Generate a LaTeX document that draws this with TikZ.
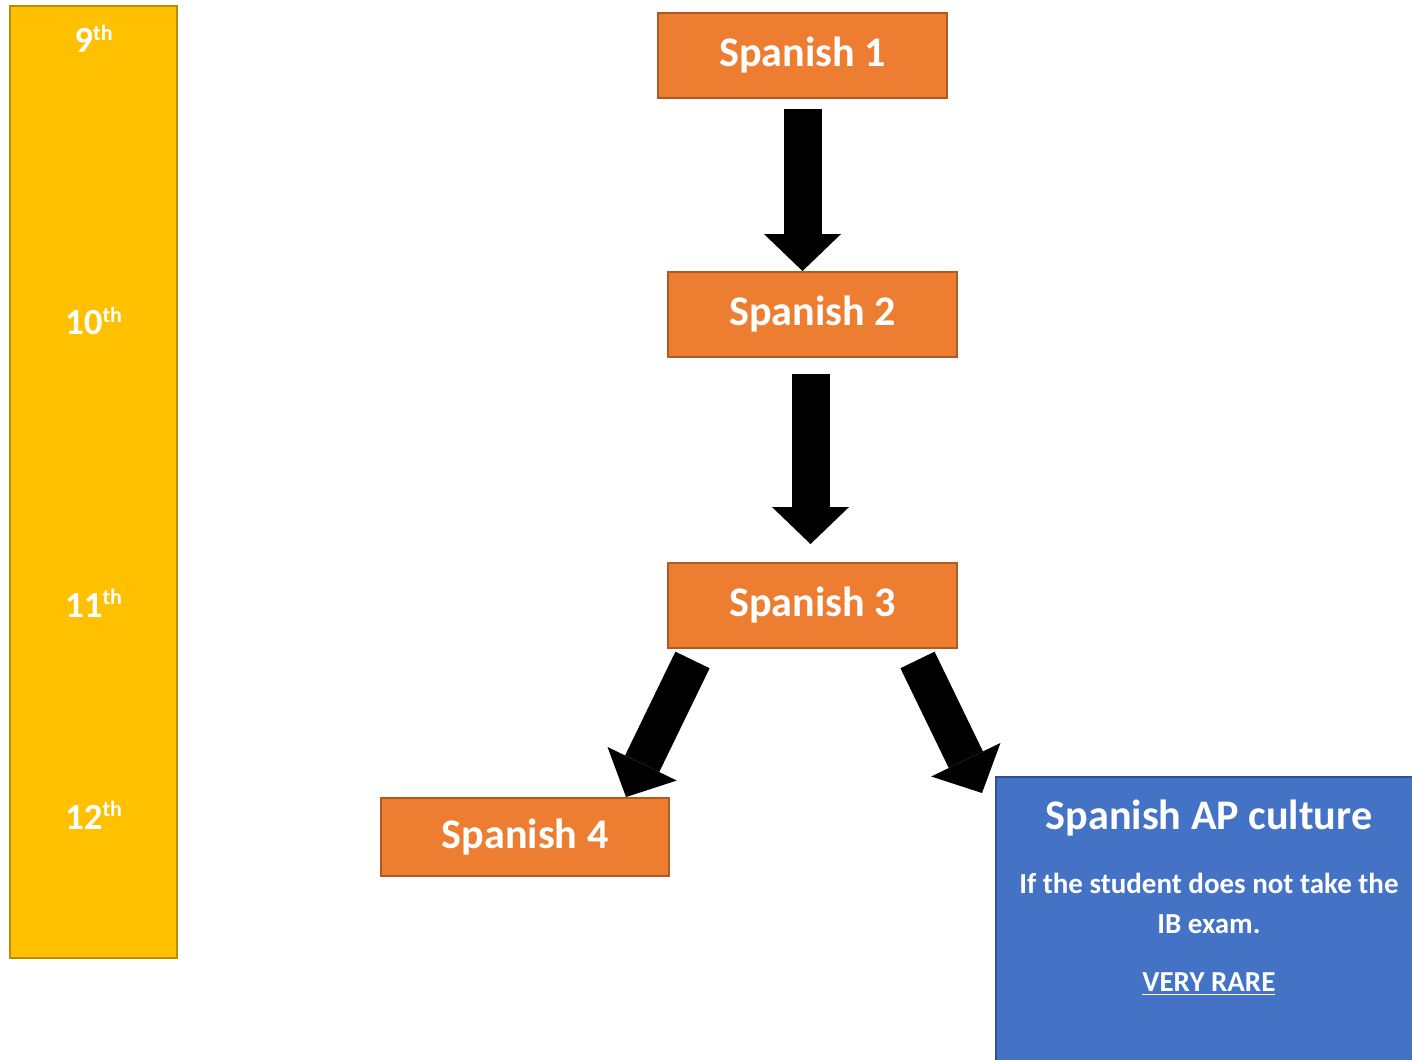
\documentclass[tikz,border=0pt]{standalone}
\usepackage{fontspec}
\setmainfont{Carlito}
\usetikzlibrary{arrows.meta}
\definecolor{orangefill}{HTML}{ED7D31}
\definecolor{orangeline}{HTML}{AE5A21}
\definecolor{yellowfill}{HTML}{FFC000}
\definecolor{yellowline}{HTML}{BC8C00}
\definecolor{bluefill}{HTML}{4472C4}
\definecolor{blueline}{HTML}{2F528F}
\newcommand{\grade}[2]{#1\raisebox{7pt}{\fontsize{12.5}{12.5}\selectfont #2}}
\tikzset{
	course/.style={draw=orangeline, fill=orangefill, line width=1.1pt, minimum width=5.78cm, minimum height=1.7cm, text=white, font=\fontsize{24}{28}\selectfont\bfseries},
	bigarrow/.style={line width=0.76cm, -{Triangle[length=0.74cm, width=1.54cm, line width=0pt]}},
	gradelabel/.style={text=white, font=\fontsize{21}{24}\selectfont\bfseries, inner sep=0pt, anchor=base}
}

\begin{document}
\begin{tikzpicture}[x=0.02cm, y=-0.02cm]
\path[use as bounding box, clip] (0,0) rectangle (1412,1060);
% grade bar
\node [draw=yellowline, fill=yellowfill, line width=1.1pt, minimum width=3.34cm, minimum height=19.04cm] (bar) at (93.5,482) {};
\node [gradelabel] (g9) at (93.5,53) {\grade{9}{th}};
\node [gradelabel] (g10) at (93.5,335) {\grade{10}{th}};
\node [gradelabel] (g11) at (93.5,617) {\grade{11}{th}};
\node [gradelabel] (g12) at (93.5,829) {\grade{12}{th}};
% courses
\node [course] (s1) at (802.5,55.5) {Spanish 1};
\node [course] (s2) at (812.5,314.5) {Spanish 2};
\node [course] (s3) at (812.5,605.5) {Spanish 3};
\node [course, minimum width=5.76cm, minimum height=1.56cm] (s4) at (525,837) {Spanish 4};
\node [draw=blueline, fill=bluefill, line width=1.1pt, anchor=north west, text width=8.4cm, inner xsep=0.06cm, inner ysep=0.46cm, align=flush center, text=white, font=\fontsize{16.5}{22.7}\selectfont\bfseries] (ap) at (995,776) {%
	{\fontsize{24}{28}\selectfont Spanish AP culture}\\[13.6pt]
	If the student does not take the\\
	IB exam.\\[10.7pt]
	\underline{VERY RARE}\\[2cm]\mbox{}};
% arrows
\draw [bigarrow] ([shift={(0,10)}]s1.south) -- (s1.south |- s2.north);
\draw [bigarrow] ([shift={(-2,16)}]s2.south) -- ([shift={(-2,-18)}]s3.north);
\draw [bigarrow] ([shift={(-120,11)}]s3.south) -- ([shift={(101,0)}]s4.north);
\draw [bigarrow] ([shift={(105,11)}]s3.south) -- ([shift={(-13,17)}]ap.north west);
\end{tikzpicture}
\end{document}
